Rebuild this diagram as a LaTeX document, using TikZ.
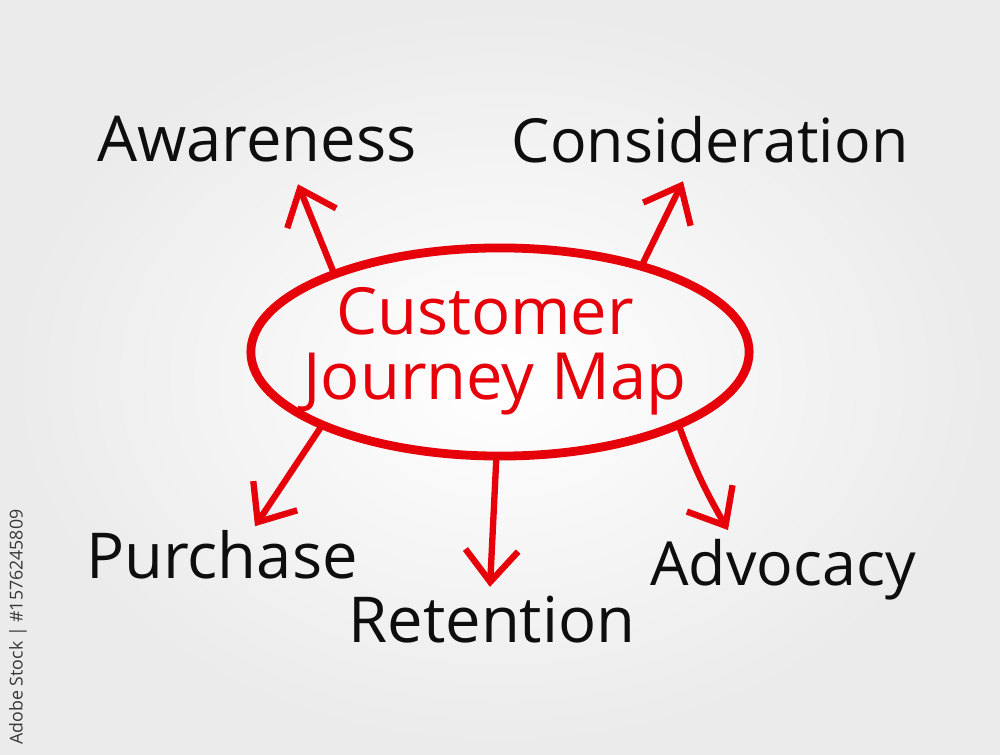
\documentclass[tikz,border=0pt]{standalone}
\usepackage{fontspec}
\setmainfont{Open Sans}
\usetikzlibrary{calc,shapes.geometric,arrows.meta}
\definecolor{mapred}{RGB}{230,0,10}
\definecolor{ink}{RGB}{14,14,14}
\def\drawarrow{\draw[color=mapred, line width=1.8pt, line cap=round, -{Straight Barb[length=9pt,width=15pt,line width=1.8pt]}]}
\def\stagenode{\node[font=\fontsize{18}{18}\selectfont, text=ink, inner sep=0pt, anchor=base]}
\def\titlenode{\node[font=\fontsize{18.5}{18.5}\selectfont, text=mapred, inner sep=0pt, anchor=base]}

\begin{document}
\begin{tikzpicture}[x=0.01cm,y=-0.01cm]
% soft grey background, white in the middle
\shade[inner color=white, outer color=black!8] (0,0) rectangle (1000,755);
\useasboundingbox (0,0) rectangle (1000,755);

% ---------- the hub
\node[ellipse, draw=mapred, line width=2.5pt, minimum width=4.98cm, minimum height=2.08cm, inner sep=0pt] (hub) at (500,352) {};
\titlenode (cust) at (485,335) {Customer};
\titlenode (jmap) at (495,400) {Journey Map};

% ---------- the stages round it
\stagenode (aware) at (257,162) {Awareness};
\stagenode[font=\fontsize{17.3}{18}\selectfont] (consid) at (710,163) {Consideration};
\stagenode (purch) at (222,578) {Purchase};
\stagenode (reten) at (492,642) {Retention};
\stagenode[font=\fontsize{17.3}{18}\selectfont] (advoc) at (783,585) {Advocacy};

% tips of the arrows, just short of each word
\coordinate (awtip) at ($ (aware.south) + (41,21) $);
\coordinate (contip) at ($ (consid.south) + (-27,17) $);
\coordinate (purtip) at ($ (purch.north) + (33,-3) $);
\coordinate (rettip) at ($ (reten.north) + (-2,-8) $);
\coordinate (advtip) at ($ (advoc.north) + (-55,-8) $);

\drawarrow (hub.154) to (awtip);
\drawarrow (hub.32.5) to (contip);
\drawarrow (hub.203.6) to (purtip);
\drawarrow (hub.268) to (rettip);
\drawarrow[out=-70,in=120] (hub.-23.6) to (advtip);

% stock mark up the left edge
\node[rotate=90, font=\fontsize{5.05}{6}\selectfont, text=black!78, inner sep=0pt] (stock) at (18,627) {Adobe Stock | \#1576245809};
\end{tikzpicture}
\end{document}
